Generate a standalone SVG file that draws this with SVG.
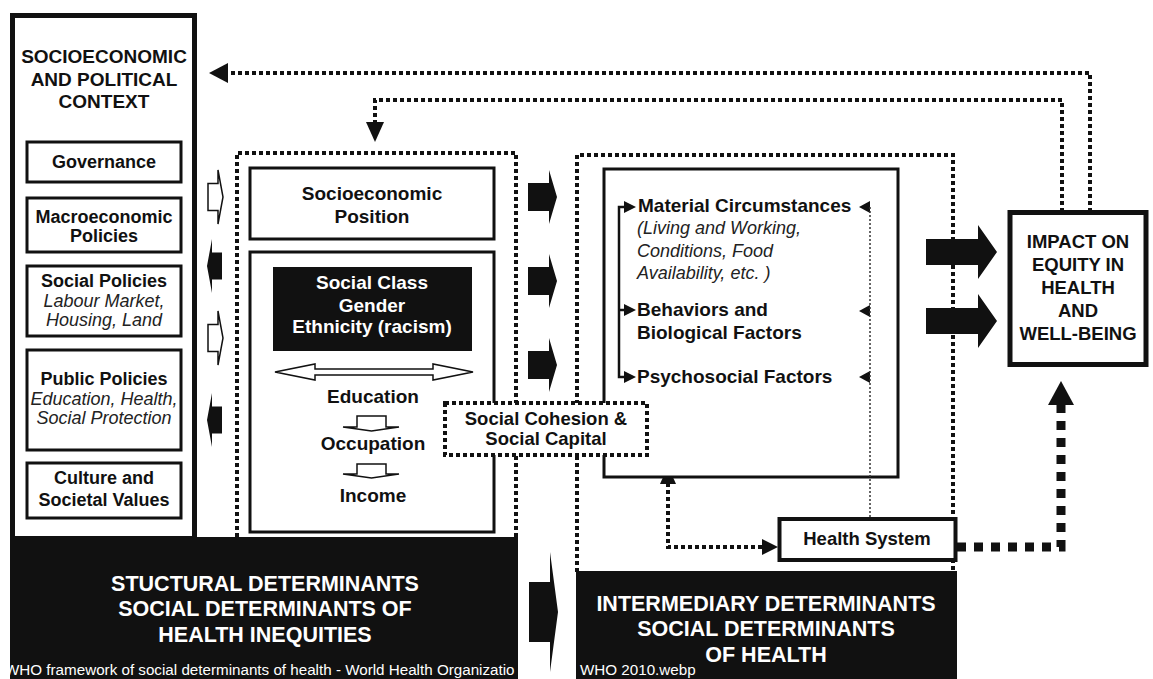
<svg xmlns="http://www.w3.org/2000/svg" width="1153" height="679" viewBox="0 0 1153 679">
<style>
text{font-family:"Liberation Sans",Arial,Helvetica,sans-serif;fill:#111;text-anchor:middle;font-weight:bold}
.s18{font-size:18px}
.s19{font-size:19px}
.s185{font-size:18.5px}
.it{font-style:italic;font-weight:normal;fill:#222}
.st{text-anchor:start}
.w{fill:#fff}
.hd{font-size:21.5px;fill:#fff}
.note{font-size:15.2px;font-weight:normal;fill:#fff;text-anchor:start}
.box{fill:#fff;stroke:#111;stroke-width:3}
.dot{fill:none;stroke:#111;stroke-width:4;stroke-dasharray:4 3}
.dotw{fill:#fff;stroke:#111;stroke-width:4;stroke-dasharray:4 3}
.thin{fill:none;stroke:#333;stroke-width:1.5;stroke-dasharray:2 2}
.big{fill:none;stroke:#111;stroke-width:9;stroke-dasharray:9 8}
.blk{fill:#111}
.wa{fill:#fff;stroke:#111;stroke-width:1.5}
.ln{fill:none;stroke:#111;stroke-width:2.5}
</style>
<defs>
<path id="arrR" d="M0,-14 H21 V-27 L29,0 L21,27 V14 H0 Z"/>
<path id="arrSR" d="M0,-13.5 H10 V-27 L15,0 L10,27 V13.5 H0 Z"/>
<path id="arrSL" d="M15,-13.5 H5 V-27 L0,0 L5,27 V13.5 H15 Z"/>
<path id="arrBig" d="M0,-13 H52 V-27 L71,0 L52,27 V13 H0 Z"/>
<path id="triR" d="M0,-6 L12,0 L0,6 Z"/>
<path id="triL" d="M0,-6 L-11,0 L0,6 Z"/>
</defs>
<rect width="1153" height="679" fill="#fff"/>

<g id="connectors">
<path class="dot" d="M1090,212 V73 H228"/>
<polygon class="blk" points="228,63 228,83 209,73"/>
<path class="dot" d="M1062,212 V100 H375 V122"/>
<polygon class="blk" points="366,122 384,122 375,142"/>
<path class="big" d="M957,547 H1061 V405"/>
<polygon class="blk" points="1048,405 1074,405 1061,381"/>
<path class="dot" d="M668,483 V547 H762"/>
<polygon class="blk" points="660,484 676,484 668,466"/>
<polygon class="blk" points="762,539 762,555 778,547"/>
<use href="#arrSR" x="208" y="197" fill="#fff" stroke="#111" stroke-width="1.5"/>
<use href="#arrSL" x="207" y="266" class="blk"/>
<use href="#arrSR" x="208" y="338" fill="#fff" stroke="#111" stroke-width="1.5"/>
<use href="#arrSL" x="207" y="420" class="blk"/>
<use href="#arrR" x="528" y="197" class="blk"/>
<use href="#arrR" x="528" y="281" class="blk"/>
<use href="#arrR" x="528" y="365" class="blk"/>
<path class="blk" d="M529,582 H550 V552 L558,612 L550,672 V642 H529 Z"/>
</g>

<g id="context">
<rect x="12.5" y="15.5" width="182" height="523" fill="#fff" stroke="#111" stroke-width="5"/>
<text class="s19" x="104" y="63">SOCIOECONOMIC</text>
<text class="s19" x="104" y="86">AND POLITICAL</text>
<text class="s19" x="104" y="108">CONTEXT</text>
</g>
<g id="governance">
<rect class="box" x="27" y="142" width="154" height="40"/>
<text class="s18" x="104" y="168">Governance</text>
</g>
<g id="macro">
<rect class="box" x="27" y="198" width="154" height="54"/>
<text class="s18" x="104" y="223">Macroeconomic</text>
<text class="s18" x="104" y="242">Policies</text>
</g>
<g id="social-policies">
<rect class="box" x="27" y="266" width="154" height="70"/>
<text class="s18" x="104" y="287">Social Policies</text>
<text class="s18 it" x="104" y="307">Labour Market,</text>
<text class="s18 it" x="104" y="326">Housing, Land</text>
</g>
<g id="public-policies">
<rect class="box" x="27" y="350" width="154" height="100"/>
<text class="s18" x="104" y="385">Public Policies</text>
<text class="s18 it" x="104" y="405">Education, Health,</text>
<text class="s18 it" x="104" y="424">Social Protection</text>
</g>
<g id="culture">
<rect class="box" x="27" y="463" width="154" height="55"/>
<text class="s18" x="104" y="484">Culture and</text>
<text class="s18" x="104" y="506">Societal Values</text>
</g>

<g id="structural-container">
<path class="dot" d="M237,537 V153 H516 V537"/>
</g>
<g id="sep">
<rect class="box" x="250" y="168" width="244" height="71"/>
<text class="s19" x="372" y="200">Socioeconomic</text>
<text class="s19" x="372" y="223">Position</text>
</g>
<g id="social-class">
<rect class="box" x="250" y="252" width="244" height="280"/>
<rect class="blk" x="273" y="267" width="199" height="84"/>
<text class="s19 w" x="372" y="289">Social Class</text>
<text class="s19 w" x="372" y="312">Gender</text>
<text class="s19 w" x="372" y="333">Ethnicity (racism)</text>
<path class="wa" d="M275,372 L315,364 V369 H433 V364 L473,372 L433,380 V375 H315 V380 Z"/>
<text class="s19" x="373" y="403">Education</text>
<path class="wa" d="M357,416 H386 V427 H399 L371.5,431 L343,427 H357 Z"/>
<text class="s19" x="373" y="450">Occupation</text>
<path class="wa" d="M357,464 H386 V474 H399 L371.5,478 L343,474 H357 Z"/>
<text class="s19" x="373" y="502">Income</text>
</g>

<g id="intermediary-container">
<path class="dot" d="M577,572 V155 H953 V572"/>
</g>
<g id="intermediary">
<rect class="box" x="604" y="169" width="294" height="308"/>
<path class="ln" d="M625,207 H619 V377 H625 M619,310 H625"/>
<use href="#triR" x="624" y="207" class="blk"/>
<use href="#triR" x="624" y="310" class="blk"/>
<use href="#triR" x="624" y="377" class="blk"/>
<use href="#triL" x="870" y="207" class="blk"/>
<use href="#triL" x="870" y="311" class="blk"/>
<use href="#triL" x="870" y="377" class="blk"/>
<path class="thin" d="M870,207 V519"/>
<text class="s19 st" x="638" y="212">Material Circumstances</text>
<text class="s18 it st" x="637" y="234">(Living and Working,</text>
<text class="s18 it st" x="637" y="257">Conditions, Food</text>
<text class="s18 it st" x="637" y="279">Availability, etc. )</text>
<text class="s19 st" x="637" y="316">Behaviors and</text>
<text class="s19 st" x="637" y="339">Biological Factors</text>
<text class="s19 st" x="637" y="383">Psychosocial Factors</text>
</g>

<g id="social-cohesion">
<rect class="dotw" x="445" y="403" width="202" height="52"/>
<text class="s185" x="546" y="425">Social Cohesion &amp;</text>
<text class="s185" x="546" y="445">Social Capital</text>
</g>

<g id="health-system">
<rect x="779.5" y="519" width="176" height="41" fill="#fff" stroke="#111" stroke-width="4"/>
<text class="s185" x="867" y="545">Health System</text>
</g>

<g id="impact">
<use href="#arrBig" x="926" y="252" class="blk"/>
<use href="#arrBig" x="926" y="321" class="blk"/>
<rect x="1010" y="212.5" width="136" height="152" fill="#fff" stroke="#111" stroke-width="5"/>
<text class="s185" x="1078" y="248">IMPACT ON</text>
<text class="s185" x="1078" y="271">EQUITY IN</text>
<text class="s185" x="1078" y="294">HEALTH</text>
<text class="s185" x="1078" y="317">AND</text>
<text class="s185" x="1078" y="340">WELL-BEING</text>
</g>

<g id="structural-label">
<rect class="blk" x="10" y="537" width="508" height="142"/>
<text class="hd" x="265" y="591">STUCTURAL DETERMINANTS</text>
<text class="hd" x="265" y="616">SOCIAL DETERMINANTS OF</text>
<text class="hd" x="265" y="642">HEALTH INEQUITIES</text>
<text class="note" x="5" y="675">WHO framework of social determinants of health - World Health Organizatio</text>
</g>

<g id="intermediary-label">
<rect class="blk" x="576" y="571" width="381" height="108"/>
<text class="hd" x="766" y="611">INTERMEDIARY DETERMINANTS</text>
<text class="hd" x="766" y="636">SOCIAL DETERMINANTS</text>
<text class="hd" x="766" y="662">OF HEALTH</text>
<text class="note" x="580" y="675">WHO 2010.webp</text>
</g>
</svg>
